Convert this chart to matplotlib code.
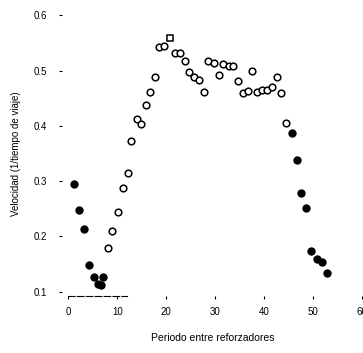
import numpy as np
import matplotlib
matplotlib.use('Agg')
import matplotlib.pyplot as plt

plt.rcParams['font.family'] = ['Liberation Sans', 'DejaVu Sans']

# puntos rellenos (inicio y final del periodo)
x_lleno = [1.1, 2.2, 3.1, 4.3, 5.2, 6.0, 6.6, 7.1,
           45.7, 46.7, 47.7, 48.7, 49.7, 50.9, 51.9, 52.9]
y_lleno = [0.295, 0.247, 0.213, 0.149, 0.126, 0.114, 0.113, 0.126,
           0.387, 0.338, 0.279, 0.252, 0.173, 0.159, 0.153, 0.134]

# puntos abiertos
x_abierto = [8.2, 9.0, 10.1, 11.1, 12.1, 12.9, 14.0, 14.9, 15.9, 16.8, 17.8,
             18.6, 19.6, 21.8, 22.9, 23.8, 24.6, 25.7, 26.8, 27.8, 28.6,
             29.8, 30.8, 31.7, 32.8, 33.7, 34.8, 35.7, 36.7, 37.6, 38.7,
             39.7, 40.6, 41.7, 42.6, 43.6, 44.6]
y_abierto = [0.179, 0.209, 0.245, 0.287, 0.314, 0.372, 0.413, 0.404, 0.437,
             0.462, 0.488, 0.543, 0.544, 0.532, 0.532, 0.517, 0.498, 0.488,
             0.483, 0.462, 0.517, 0.513, 0.492, 0.512, 0.509, 0.508, 0.481,
             0.460, 0.463, 0.499, 0.462, 0.465, 0.465, 0.471, 0.488, 0.459,
             0.405]

# punto cuadrado
x_cuadro = [20.7]
y_cuadro = [0.558]

xticks = [0, 10, 20, 30, 40, 50, 60]
yticks = [0.1, 0.2, 0.3, 0.4, 0.5, 0.6]

fig = plt.figure(figsize=(3.63, 3.53), dpi=100)
ax = fig.add_axes([0.171, 0.161, 0.829, 0.81])

ax.plot(x_abierto, y_abierto, 'o', mfc='white', mec='black', ms=4.8, mew=1.1)
ax.plot(x_cuadro, y_cuadro, 's', mfc='white', mec='black', ms=4.5, mew=1.1)
ax.plot(x_lleno, y_lleno, 'o', mfc='black', mec='black', ms=5)

ax.set_xlim(-1.3, 60.3)
ax.set_ylim(0.092, 0.609)

ax.set_xticks(xticks)
ax.set_xticklabels([str(t) for t in xticks])
ax.set_yticks(yticks)
ax.set_yticklabels(['0.1', '0.2', '0.3', '0.4', '0.5', '0.6'])
ax.tick_params(labelsize=7, length=2, width=0.8)
ax.tick_params(axis='y', pad=9)
ax.tick_params(axis='x', pad=6)

for s in ['top', 'right', 'left']:
    ax.spines[s].set_visible(False)
ax.spines['bottom'].set_bounds(0, 12)
ax.spines['bottom'].set_linestyle((0, (6, 2)))
ax.spines['bottom'].set_linewidth(0.8)

ax.set_xlabel('Periodo entre reforzadores', fontsize=7.5, labelpad=11)
ax.set_ylabel('Velocidad (1/tiempo de viaje)', fontsize=7, labelpad=9)

plt.savefig('out.png', dpi=100)
